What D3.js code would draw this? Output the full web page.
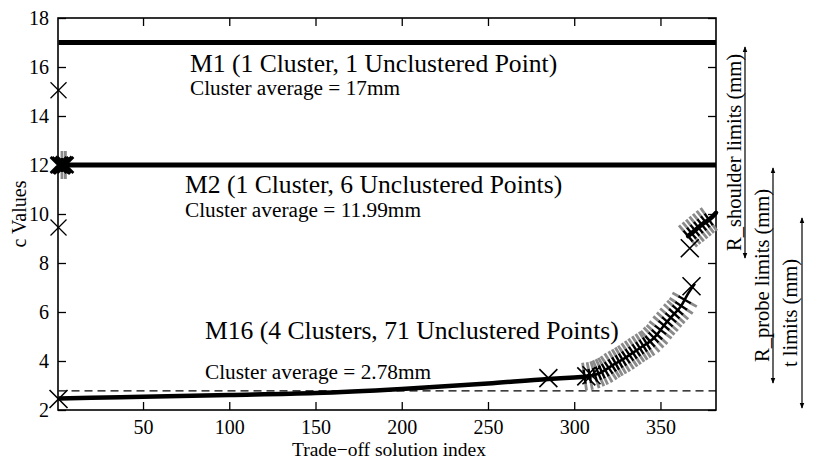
<!DOCTYPE html>
<html>
<head>
<meta charset="utf-8">
<script src="https://cdn.jsdelivr.net/npm/d3@7"></script>
<style>
  html, body { margin: 0; padding: 0; background: #fff; }
  svg { display: block; }
  svg text { font-family: "Liberation Serif", "Tinos", "Times New Roman", "DejaVu Serif", serif; }
</style>
</head>
<body>
<svg id="chart" width="813" height="461"></svg>
<script>
// ---- data ---------------------------------------------------------------
const xTicks = [50, 100, 150, 200, 250, 300, 350];
const yTicks = [2, 4, 6, 8, 10, 12, 14, 16, 18];
const xDomain = [0.7, 382.2];
const yDomain = [2, 18];

// M1: one cluster at 17 mm, one unclustered point
const m1Line = [[1, 17], [382.2, 17]];
const m1Average = 17;
const m1Unclustered = [[1, 15.05]];

// M2: one cluster at 12 mm, six unclustered points
const m2Line = [[1, 12], [382.2, 12]];
const m2Average = 11.99;
const m2Unclustered = [[1, 9.45], [1, 12.0], [2, 12.0], [3, 11.96], [4, 12.02], [5, 12.0]];
const m2ClusterMarks = [[3, 12.0], [5, 12.0]];

// M16: four clusters, 71 unclustered points
const m16Flat = [
  [1, 2.47], [20, 2.5], [50, 2.54], [100, 2.61], [150, 2.69], [200, 2.86],
  [250, 3.08], [285, 3.27], [300, 3.33], [310, 3.38]
];
const m16Rise = [
  [310, 3.38], [316, 3.55], [323, 3.86], [330, 4.15], [335, 4.38], [340, 4.62],
  [343, 4.75], [348, 5.08], [352, 5.45], [357, 5.85], [362, 6.25], [366, 6.75], [370, 7.15]
];
const m16Upper = [
  [366, 9.1], [370, 9.33], [375, 9.62], [380, 9.88], [382.2, 10.05]
];
const m16Average = 2.78;
const m16Unclustered = [[1, 2.45], [285, 3.3], [307, 3.37], [310, 3.42], [368, 7.05], [367, 8.6]];
const m16ClusterMarks = [
  [306, 3.36], [309, 3.39], [312, 3.44], [314, 3.5], [316, 3.56], [318, 3.63], [320, 3.72],
  [322, 3.82], [324, 3.9], [326, 3.98], [328, 4.06], [330, 4.15], [332, 4.25],
  [334, 4.34], [336, 4.44], [338, 4.53], [340, 4.62], [342, 4.71], [344, 4.8],
  [346, 4.96], [348, 5.08], [350, 5.27], [352, 5.45], [354, 5.6], [356, 5.77],
  [358, 5.93], [360, 6.08], [362, 6.25], [364, 6.5]
];
const m16UpperMarks = [
  [366, 9.1], [368, 9.22], [370, 9.33], [372, 9.45], [374, 9.56], [376, 9.68], [378, 9.78]
];

// parameter range annotations on the right (c value spans)
const rangeNotes = [
  { label: "R_shoulder limits (mm)", span: [16.82, 8.2] },
  { label: "R_probe limits (mm)", span: [11.88, 3.1] },
  { label: "t limits (mm)", span: [9.84, 2.08] }
];

// model captions
const captions = [
  { title: "M1 (1 Cluster, 1 Unclustered Point)", sub: "Cluster average = 17mm" },
  { title: "M2 (1 Cluster, 6 Unclustered Points)", sub: "Cluster average = 11.99mm" },
  { title: "M16 (4 Clusters, 71 Unclustered Points)", sub: "Cluster average = 2.78mm" }
];

// ---- layout -------------------------------------------------------------
const plot = { left: 58, right: 716, top: 18, bottom: 410 };
const svg = d3.select("#chart");
const x = d3.scaleLinear().domain(xDomain).range([plot.left, plot.right]);
const y = d3.scaleLinear().domain(yDomain).range([plot.bottom, plot.top]);

// ---- axes (inward ticks on all four sides) -------------------------------
function styleAxis(g) {
  g.attr("font-family", null).attr("font-size", null);
  g.select(".domain").remove();
  g.selectAll(".tick line").attr("stroke", "#000").attr("stroke-width", 1.3);
  g.selectAll(".tick text").attr("fill", "#000").attr("font-size", 20);
}
svg.append("g").attr("transform", `translate(0,${plot.bottom})`)
  .call(d3.axisBottom(x).tickValues(xTicks).tickSizeInner(-8).tickSizeOuter(0).tickPadding(10))
  .call(styleAxis);
svg.append("g").attr("transform", `translate(0,${plot.top})`)
  .call(d3.axisTop(x).tickValues(xTicks).tickSizeInner(-8).tickSizeOuter(0).tickFormat(""))
  .call(styleAxis);
svg.append("g").attr("transform", `translate(${plot.left},0)`)
  .call(d3.axisLeft(y).tickValues(yTicks).tickSizeInner(-8).tickSizeOuter(0).tickPadding(9))
  .call(styleAxis);
svg.append("g").attr("transform", `translate(${plot.right},0)`)
  .call(d3.axisRight(y).tickValues(yTicks).tickSizeInner(-8).tickSizeOuter(0).tickFormat(""))
  .call(styleAxis);

svg.append("rect")
  .attr("x", plot.left).attr("y", plot.top)
  .attr("width", plot.right - plot.left).attr("height", plot.bottom - plot.top)
  .attr("fill", "none").attr("stroke", "#000").attr("stroke-width", 1.6);

// axis titles
svg.append("text")
  .attr("x", (plot.left + plot.right) / 2 + 2).attr("y", 456)
  .attr("text-anchor", "middle").attr("font-size", 19.5)
  .text("Trade\u2212off solution index");
svg.append("text")
  .attr("transform", `translate(26,${(plot.top + plot.bottom) / 2}) rotate(-90)`)
  .attr("text-anchor", "middle").attr("font-size", 20)
  .text("c Values");

// ---- plot content --------------------------------------------------------
const line = d3.line().x(d => x(d[0])).y(d => y(d[1])).curve(d3.curveMonotoneX);
const content = svg.append("g");

// cluster averages (dashed)
[m2Average, m16Average].forEach(v => {
  content.append("line")
    .attr("x1", x(1)).attr("x2", plot.right)
    .attr("y1", y(v)).attr("y2", y(v))
    .attr("stroke", "#000").attr("stroke-width", 1.4)
    .attr("stroke-dasharray", "8,5");
});

// gray/black cluster hatches, perpendicular to the local trend
function hatches(points) {
  const px = points.map(d => [x(d[0]), y(d[1])]);
  const g = content.append("g");
  px.forEach((p, i) => {
    const a = px[Math.max(0, i - 1)], b = px[Math.min(px.length - 1, i + 1)];
    let tx = b[0] - a[0], ty = b[1] - a[1];
    const len = Math.hypot(tx, ty) || 1;
    tx /= len; ty /= len;
    const nx = -ty, ny = tx;
    [[6, 14], [-6, -14]].forEach(([r0, r1]) => {
      g.append("line")
        .attr("x1", p[0] + nx * r0).attr("y1", p[1] + ny * r0)
        .attr("x2", p[0] + nx * r1).attr("y2", p[1] + ny * r1)
        .attr("stroke", "#8a8a8a").attr("stroke-width", 2.8);
    });
    g.append("line")
      .attr("x1", p[0] - nx * 7).attr("y1", p[1] - ny * 7)
      .attr("x2", p[0] + nx * 7).attr("y2", p[1] + ny * 7)
      .attr("stroke", "#000").attr("stroke-width", 2.4);
  });
}
hatches(m16ClusterMarks);
hatches(m16UpperMarks);
hatches(m2ClusterMarks);

// model curves
content.append("path").datum(m1Line).attr("d", line)
  .attr("fill", "none").attr("stroke", "#000").attr("stroke-width", 5);
content.append("path").datum(m2Line).attr("d", line)
  .attr("fill", "none").attr("stroke", "#000").attr("stroke-width", 5);
content.append("path").datum(m16Flat).attr("d", line)
  .attr("fill", "none").attr("stroke", "#000").attr("stroke-width", 4.5)
  .attr("stroke-linejoin", "round");
content.append("path").datum(m16Rise).attr("d", line)
  .attr("fill", "none").attr("stroke", "#000").attr("stroke-width", 2.6)
  .attr("stroke-linejoin", "round");
content.append("path").datum(m16Upper).attr("d", line)
  .attr("fill", "none").attr("stroke", "#000").attr("stroke-width", 4.5)
  .attr("stroke-linecap", "round");

// unclustered points (x markers)
function crosses(points, s, w) {
  content.append("g").selectAll("path").data(points).join("path")
    .attr("transform", d => `translate(${x(d[0])},${y(d[1])})`)
    .attr("d", `M${-s},${-s}L${s},${s}M${-s},${s}L${s},${-s}`)
    .attr("fill", "none").attr("stroke", "#000").attr("stroke-width", w);
}
crosses(m1Unclustered, 8, 1.2);
crosses(m2Unclustered.slice(0, 1), 8, 1.2);
crosses(m2Unclustered.slice(1), 8, 2.6);
crosses(m16Unclustered, 9, 1.6);

// captions
const capPos = [
  { x: 190, y1: 72, y2: 95 },
  { x: 185, y1: 193, y2: 217 },
  { x: 205, y1: 339, y2: 379 }
];
captions.forEach((c, i) => {
  svg.append("text").attr("x", capPos[i].x).attr("y", capPos[i].y1)
    .attr("font-size", 25.6).text(c.title);
  svg.append("text").attr("x", capPos[i].x).attr("y", capPos[i].y2)
    .attr("font-size", 21.3).text(c.sub);
});

// ---- right-side range annotations ---------------------------------------
const defs = svg.append("defs");
defs.append("marker").attr("id", "tip")
  .attr("viewBox", "0 0 10 10").attr("refX", 9).attr("refY", 5)
  .attr("markerWidth", 5).attr("markerHeight", 6).attr("orient", "auto-start-reverse")
  .append("path").attr("d", "M0,1L10,5L0,9Z").attr("fill", "#000");

const notePos = [
  { lineX: 745, textX: 741 },
  { lineX: 773, textX: 769 },
  { lineX: 802, textX: 797 }
];
rangeNotes.forEach((n, i) => {
  const y0 = y(n.span[0]), y1 = y(n.span[1]);
  svg.append("line")
    .attr("x1", notePos[i].lineX).attr("x2", notePos[i].lineX)
    .attr("y1", y0).attr("y2", y1)
    .attr("stroke", "#000").attr("stroke-width", 1.2)
    .attr("marker-start", "url(#tip)").attr("marker-end", "url(#tip)");
  svg.append("text")
    .attr("transform", `translate(${notePos[i].textX},${(y0 + y1) / 2}) rotate(-90)`)
    .attr("text-anchor", "middle").attr("font-size", 20.5)
    .text(n.label);
});
</script>
</body>
</html>
